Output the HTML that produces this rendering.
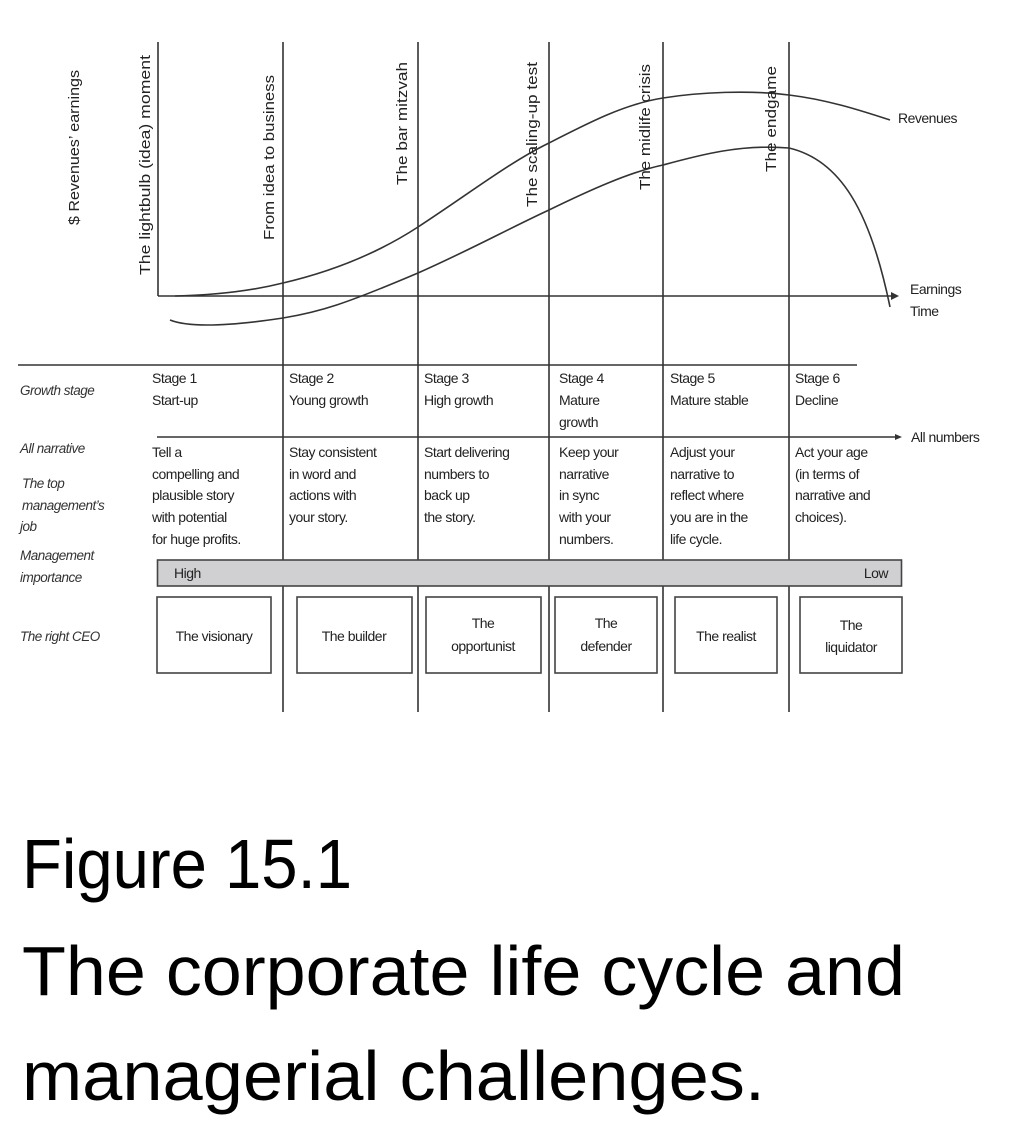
<!DOCTYPE html>
<html><head><meta charset="utf-8"><style>
html,body{margin:0;padding:0;background:#fff}
svg{display:block}
.t{font-family:"Liberation Sans",sans-serif;font-size:14px;fill:#222;letter-spacing:-0.5px}
.i{font-family:"Liberation Sans",sans-serif;font-size:13.5px;fill:#333;font-style:italic;letter-spacing:-0.5px}
.r{font-family:"Liberation Sans",sans-serif;font-size:14.5px;fill:#222}
.cap{font-family:"Liberation Sans",sans-serif;font-size:70px;fill:#000}
</style></head><body>
<svg width="1022" height="1142" viewBox="0 0 1022 1142" xmlns="http://www.w3.org/2000/svg">
<g stroke="#333" stroke-width="1.6" fill="none">
<line x1="158" y1="42" x2="158" y2="296"/>
<line x1="283" y1="42" x2="283" y2="712"/>
<line x1="418" y1="42" x2="418" y2="712"/>
<line x1="549" y1="42" x2="549" y2="712"/>
<line x1="663" y1="42" x2="663" y2="712"/>
<line x1="789" y1="42" x2="789" y2="712"/>
<line x1="158" y1="296" x2="893" y2="296"/>
<line x1="18" y1="365" x2="857" y2="365"/>
<line x1="157" y1="437" x2="896" y2="437"/>
<path d="M175,296 C220,295 255,290 283,283 C330,272 375,255 418,227 C470,193 510,162 549,143 C590,122 625,104 663,98 C700,92 750,90 789,95 C830,100 865,112 890,120"/>
<path d="M170,320 C190,328 230,326 283,318 C320,312 345,304 418,273 C470,250 510,228 549,210 C590,190 630,172 663,165 C700,155 740,144 789,148 C840,160 870,210 890,307"/>
</g>
<polygon points="899,296 891,292 891,300" fill="#333"/>
<polygon points="902,437 895,434 895,440" fill="#333"/>
<text class="r" transform="translate(79,225) rotate(-90)" textLength="155" lengthAdjust="spacingAndGlyphs">$ Revenues’ earnings</text>
<text class="r" transform="translate(150,275) rotate(-90)" textLength="220" lengthAdjust="spacingAndGlyphs">The lightbulb (idea) moment</text>
<text class="r" transform="translate(274,240) rotate(-90)" textLength="165" lengthAdjust="spacingAndGlyphs">From idea to business</text>
<text class="r" transform="translate(407,185) rotate(-90)" textLength="123" lengthAdjust="spacingAndGlyphs">The bar mitzvah</text>
<text class="r" transform="translate(537,207) rotate(-90)" textLength="145" lengthAdjust="spacingAndGlyphs">The scaling-up test</text>
<text class="r" transform="translate(650,190) rotate(-90)" textLength="126" lengthAdjust="spacingAndGlyphs">The midlife crisis</text>
<text class="r" transform="translate(776,172) rotate(-90)" textLength="106" lengthAdjust="spacingAndGlyphs">The endgame</text>
<text class="t" x="898" y="123">Revenues</text>
<text class="t" x="910" y="294">Earnings</text>
<text class="t" x="910" y="316">Time</text>
<text class="t" x="911" y="442">All numbers</text>
<text class="i" x="20" y="395">Growth stage</text>
<text class="i" x="20" y="453">All narrative</text>
<text class="i" x="22" y="488">The top</text>
<text class="i" x="22" y="510">management’s</text>
<text class="i" x="20" y="531">job</text>
<text class="i" x="20" y="560">Management</text>
<text class="i" x="20" y="582">importance</text>
<text class="i" x="20" y="641">The right CEO</text>
<g class="t">
<text x="152" y="383">Stage 1</text><text x="152" y="405">Start-up</text>
<text x="289" y="383">Stage 2</text><text x="289" y="405">Young growth</text>
<text x="424" y="383">Stage 3</text><text x="424" y="405">High growth</text>
<text x="559" y="383">Stage 4</text><text x="559" y="405">Mature</text><text x="559" y="427">growth</text>
<text x="670" y="383">Stage 5</text><text x="670" y="405">Mature stable</text>
<text x="795" y="383">Stage 6</text><text x="795" y="405">Decline</text>
<text x="152" y="457">Tell a</text><text x="152" y="479">compelling and</text><text x="152" y="500">plausible story</text><text x="152" y="522">with potential</text><text x="152" y="544">for huge profits.</text>
<text x="289" y="457">Stay consistent</text><text x="289" y="479">in word and</text><text x="289" y="500">actions with</text><text x="289" y="522">your story.</text>
<text x="424" y="457">Start delivering</text><text x="424" y="479">numbers to</text><text x="424" y="500">back up</text><text x="424" y="522">the story.</text>
<text x="559" y="457">Keep your</text><text x="559" y="479">narrative</text><text x="559" y="500">in sync</text><text x="559" y="522">with your</text><text x="559" y="544">numbers.</text>
<text x="670" y="457">Adjust your</text><text x="670" y="479">narrative to</text><text x="670" y="500">reflect where</text><text x="670" y="522">you are in the</text><text x="670" y="544">life cycle.</text>
<text x="795" y="457">Act your age</text><text x="795" y="479">(in terms of</text><text x="795" y="500">narrative and</text><text x="795" y="522">choices).</text>
</g>
<rect x="157.5" y="560" width="744" height="26" fill="#d0d0d2" stroke="#444" stroke-width="1.6"/>
<text class="t" x="174" y="578">High</text>
<text class="t" x="888" y="578" text-anchor="end">Low</text>
<g fill="#fff" stroke="#444" stroke-width="1.6">
<rect x="157" y="597" width="114" height="76"/>
<rect x="297" y="597" width="115" height="76"/>
<rect x="426" y="597" width="115" height="76"/>
<rect x="555" y="597" width="102" height="76"/>
<rect x="675" y="597" width="102" height="76"/>
<rect x="800" y="597" width="102" height="76"/>
</g>
<g class="t" text-anchor="middle">
<text x="214" y="641">The visionary</text>
<text x="354" y="641">The builder</text>
<text x="483" y="628">The</text><text x="483" y="651">opportunist</text>
<text x="606" y="628">The</text><text x="606" y="651">defender</text>
<text x="726" y="641">The realist</text>
<text x="851" y="630">The</text><text x="851" y="652">liquidator</text>
</g>
<text class="cap" x="22" y="888" textLength="330" lengthAdjust="spacingAndGlyphs">Figure 15.1</text>
<text class="cap" x="22" y="995" textLength="883" lengthAdjust="spacingAndGlyphs">The corporate life cycle and</text>
<text class="cap" x="22" y="1100" textLength="743" lengthAdjust="spacingAndGlyphs">managerial challenges.</text>
</svg>
</body></html>
